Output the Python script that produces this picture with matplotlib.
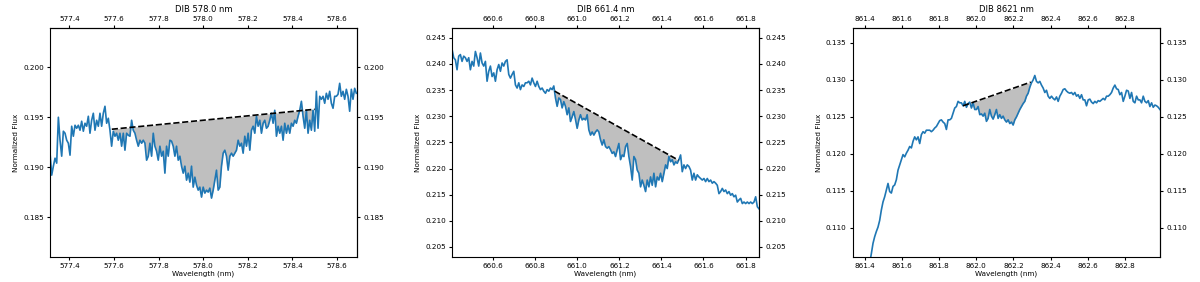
import numpy as np
import matplotlib
matplotlib.use('Agg')
import matplotlib.pyplot as plt

############################################################
# Spectra read off the reference (normalized flux, evenly sampled)

titles = ['DIB 578.0 nm', 'DIB 661.4 nm', 'DIB 8621 nm']

wl_range_578 = (577.313, 578.687)
flux_578 = [
    0.1914, 0.1892, 0.1901, 0.1909, 0.1904, 0.1950, 0.1927, 0.1911, 0.1936, 0.1934,
    0.1927, 0.1924, 0.1912, 0.1941, 0.1931, 0.1942, 0.1939, 0.1942, 0.1937, 0.1946,
    0.1936, 0.1944, 0.1941, 0.1951, 0.1934, 0.1947, 0.1954, 0.1937, 0.1947, 0.1941,
    0.1954, 0.1941, 0.1954, 0.1961, 0.1944, 0.1949, 0.1937, 0.1921, 0.1936, 0.1931,
    0.1934, 0.1927, 0.1934, 0.1921, 0.1934, 0.1917, 0.1934, 0.1932, 0.1931, 0.1947,
    0.1937, 0.1934, 0.1927, 0.1921, 0.1927, 0.1924, 0.1927, 0.1924, 0.1907, 0.1911,
    0.1924, 0.1911, 0.1934, 0.1921, 0.1916, 0.1907, 0.1921, 0.1911, 0.1916, 0.1894,
    0.1921, 0.1911, 0.1927, 0.1926, 0.1921, 0.1911, 0.1921, 0.1907, 0.1911, 0.1901,
    0.1894, 0.1901, 0.1887, 0.1894, 0.1885, 0.1901, 0.1880, 0.1890, 0.1882, 0.1877,
    0.1880, 0.1870, 0.1880, 0.1874, 0.1877, 0.1875, 0.1879, 0.1869, 0.1877, 0.1887,
    0.1897, 0.1877, 0.1880, 0.1901, 0.1914, 0.1917, 0.1911, 0.1897, 0.1911, 0.1914,
    0.1911, 0.1914, 0.1917, 0.1927, 0.1921, 0.1924, 0.1914, 0.1931, 0.1921, 0.1934,
    0.1917, 0.1937, 0.1941, 0.1934, 0.1951, 0.1941, 0.1947, 0.1934, 0.1944, 0.1947,
    0.1939, 0.1941, 0.1947, 0.1954, 0.1944, 0.1957, 0.1931, 0.1941, 0.1934, 0.1941,
    0.1927, 0.1944, 0.1934, 0.1942, 0.1934, 0.1944, 0.1941, 0.1947, 0.1944, 0.1951,
    0.1957, 0.1966, 0.1951, 0.1939, 0.1957, 0.1934, 0.1947, 0.1937, 0.1957, 0.1936,
    0.1976, 0.1939, 0.1971, 0.1968, 0.1971, 0.1964, 0.1974, 0.1968, 0.1976, 0.1964,
    0.1959, 0.1971, 0.1971, 0.1973, 0.1984, 0.1971, 0.1976, 0.1968, 0.1978, 0.1971,
    0.1956, 0.1978, 0.1968, 0.1979, 0.1974,
]
cont_wl_578 = [577.59, 578.50]
cont_flux_578 = [0.1938, 0.1958]

wl_range_661 = (660.404, 661.864)
flux_661 = [
    0.2428, 0.2412, 0.2408, 0.2389, 0.2415, 0.2418, 0.2405, 0.2415, 0.2412, 0.2405,
    0.2412, 0.2389, 0.2405, 0.2396, 0.2424, 0.2412, 0.2396, 0.2421, 0.2402, 0.2396,
    0.2405, 0.2367, 0.2386, 0.2396, 0.2376, 0.2383, 0.2367, 0.2389, 0.2399, 0.2386,
    0.2402, 0.2396, 0.2405, 0.2408, 0.2380, 0.2373, 0.2380, 0.2386, 0.2360, 0.2354,
    0.2364, 0.2351, 0.2360, 0.2357, 0.2364, 0.2364, 0.2367, 0.2360, 0.2373, 0.2364,
    0.2357, 0.2367, 0.2357, 0.2351, 0.2354, 0.2348, 0.2344, 0.2351, 0.2348, 0.2354,
    0.2351, 0.2358, 0.2335, 0.2319, 0.2335, 0.2332, 0.2316, 0.2328, 0.2319, 0.2303,
    0.2316, 0.2290, 0.2299, 0.2309, 0.2294, 0.2277, 0.2293, 0.2303, 0.2293, 0.2296,
    0.2293, 0.2303, 0.2274, 0.2264, 0.2270, 0.2264, 0.2270, 0.2274, 0.2270, 0.2255,
    0.2245, 0.2255, 0.2242, 0.2239, 0.2242, 0.2236, 0.2229, 0.2232, 0.2223, 0.2236,
    0.2248, 0.2217, 0.2226, 0.2223, 0.2242, 0.2248, 0.2223, 0.2204, 0.2178, 0.2223,
    0.2217, 0.2197, 0.2191, 0.2165, 0.2178, 0.2168, 0.2156, 0.2178, 0.2165, 0.2184,
    0.2168, 0.2191, 0.2165, 0.2184, 0.2178, 0.2191, 0.2175, 0.2191, 0.2207, 0.2200,
    0.2223, 0.2213, 0.2217, 0.2207, 0.2213, 0.2210, 0.2217, 0.2226, 0.2194, 0.2207,
    0.2200, 0.2207, 0.2204, 0.2197, 0.2178, 0.2191, 0.2178, 0.2188, 0.2184, 0.2181,
    0.2178, 0.2181, 0.2175, 0.2181, 0.2175, 0.2178, 0.2172, 0.2175, 0.2172, 0.2168,
    0.2152, 0.2156, 0.2162, 0.2156, 0.2159, 0.2152, 0.2156, 0.2149, 0.2152, 0.2146,
    0.2149, 0.2136, 0.2140, 0.2143, 0.2133, 0.2136, 0.2133, 0.2136, 0.2133, 0.2136,
    0.2133, 0.2136, 0.2146, 0.2127, 0.2123,
]
cont_wl_661 = [660.892, 661.481]
cont_flux_661 = [0.2348, 0.2216]

wl_range_862 = (861.425, 862.989)
flux_862 = [
    0.1052, 0.1065, 0.1079, 0.1088, 0.1095, 0.1101, 0.1110, 0.1124, 0.1135, 0.1142,
    0.1151, 0.1160, 0.1149, 0.1147, 0.1156, 0.1158, 0.1165, 0.1178, 0.1185, 0.1192,
    0.1199, 0.1196, 0.1201, 0.1205, 0.1210, 0.1208, 0.1217, 0.1223, 0.1219, 0.1223,
    0.1214, 0.1226, 0.1230, 0.1228, 0.1232, 0.1232, 0.1232, 0.1230, 0.1232, 0.1235,
    0.1237, 0.1241, 0.1245, 0.1246, 0.1243, 0.1241, 0.1233, 0.1246, 0.1246, 0.1248,
    0.1255, 0.1262, 0.1264, 0.1271, 0.1269, 0.1269, 0.1265, 0.1271, 0.1263, 0.1268,
    0.1270, 0.1262, 0.1269, 0.1260, 0.1260, 0.1264, 0.1253, 0.1254, 0.1251, 0.1255,
    0.1244, 0.1248, 0.1260, 0.1251, 0.1247, 0.1253, 0.1260, 0.1248, 0.1253, 0.1248,
    0.1251, 0.1246, 0.1243, 0.1246, 0.1241, 0.1243, 0.1239, 0.1246, 0.1250, 0.1255,
    0.1260, 0.1264, 0.1268, 0.1271, 0.1278, 0.1282, 0.1290, 0.1296, 0.1300, 0.1306,
    0.1298, 0.1296, 0.1298, 0.1293, 0.1289, 0.1283, 0.1286, 0.1278, 0.1275, 0.1278,
    0.1275, 0.1273, 0.1277, 0.1271, 0.1278, 0.1282, 0.1287, 0.1288, 0.1285, 0.1283,
    0.1282, 0.1283, 0.1280, 0.1283, 0.1278, 0.1280, 0.1275, 0.1280, 0.1273, 0.1273,
    0.1265, 0.1273, 0.1274, 0.1270, 0.1268, 0.1271, 0.1269, 0.1272, 0.1271, 0.1273,
    0.1275, 0.1273, 0.1278, 0.1278, 0.1280, 0.1283, 0.1289, 0.1293, 0.1288, 0.1287,
    0.1280, 0.1283, 0.1271, 0.1278, 0.1286, 0.1285, 0.1275, 0.1283, 0.1271, 0.1269,
    0.1278, 0.1273, 0.1273, 0.1269, 0.1278, 0.1271, 0.1269, 0.1272, 0.1264, 0.1269,
    0.1263, 0.1266, 0.1265, 0.1263, 0.1260,
]
cont_wl_862 = [861.928, 862.293]
cont_flux_862 = [0.1265, 0.1297]

xlims = [(577.313, 578.690), (660.404, 661.864), (861.335, 862.989)]
ylims = [(0.18101, 0.20395), (0.2031, 0.2469), (0.10607, 0.13703)]

############################################################
# Plotting

panels = [
    (wl_range_578, flux_578, cont_wl_578, cont_flux_578),
    (wl_range_661, flux_661, cont_wl_661, cont_flux_661),
    (wl_range_862, flux_862, cont_wl_862, cont_flux_862),
]
lefts = [0.0417, 0.3767, 0.7108]
fs = 5.2

fig = plt.figure(figsize=(12, 2.82), dpi=100)

for i, (wr, fl, cw, cf) in enumerate(panels):
    fl = np.array(fl)
    wl = np.linspace(wr[0], wr[1], len(fl))
    ax = fig.add_axes([lefts[i], 0.089, 0.2558, 0.812])
    ax.plot(wl, fl, color='tab:blue', lw=1.2)
    m = (wl >= cw[0]) & (wl <= cw[1])
    cont = np.interp(wl[m], cw, cf)
    ax.fill_between(wl[m], fl[m], cont, color='gray', alpha=0.5, lw=0)
    ax.plot(cw, cf, 'k--', lw=1.2)
    ax.set_xlim(xlims[i])
    ax.set_ylim(ylims[i])
    ax.set_xlabel('Wavelength (nm)', fontsize=fs, labelpad=1)
    ax.set_ylabel('Normalized Flux', fontsize=fs, labelpad=3)
    ax.tick_params(labelsize=fs, length=2.5, pad=2)
    top = ax.secondary_xaxis('top')
    top.tick_params(labelsize=fs, length=2.5, pad=2)
    right = ax.secondary_yaxis('right')
    right.tick_params(labelsize=fs, length=2.5, pad=2)
    ax.set_title(titles[i], fontsize=6, pad=3)

fig.savefig('out.png', dpi=100)
